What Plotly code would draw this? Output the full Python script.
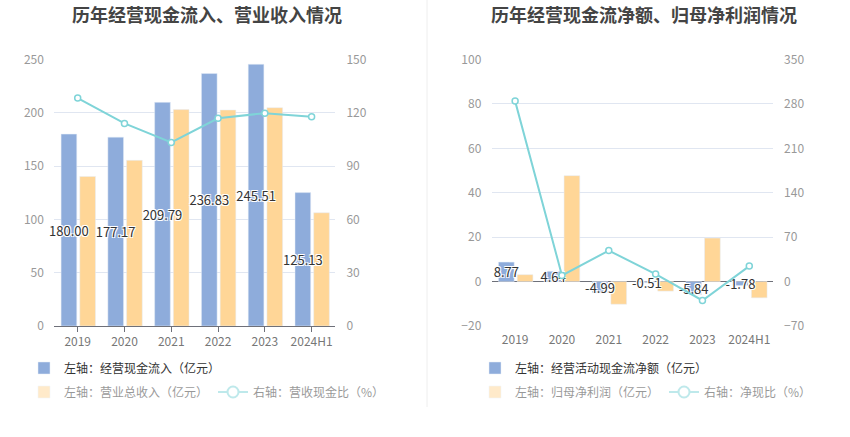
import plotly.graph_objects as go

# data
years = ["2019", "2020", "2021", "2022", "2023", "2024H1"]
cash_inflow = [180.00, 177.17, 209.79, 236.83, 245.51, 125.13]   # 经营现金流入 (亿元)
revenue = [140.3, 155.4, 203.0, 202.6, 204.8, 106.2]             # 营业总收入 (亿元)
cash_ratio = [128.3, 114.0, 103.3, 116.9, 119.8, 117.8]          # 营收现金比 (%)
net_cash = [8.77, 4.64, -4.99, -0.51, -5.84, -1.78]              # 经营活动现金流净额 (亿元)
net_profit = [3.1, 47.7, -10.2, -4.3, 19.6, -7.3]                # 归母净利润 (亿元)
net_ratio = [284.4, 9.7, 48.9, 11.9, -29.8, 24.4]                # 净现比 (%)

BLUE = '#8eacdb'
ORANGE = '#ffd697'
CYAN = '#7fd4d8'
FONT = 'Noto Sans CJK SC'

W, H = 850, 437
# screen pixels -> paper fractions
def px(sx):
    return sx / W
def py(sy):
    return 1 - sy / H

label_font = dict(family=FONT, size=13, color='#333',
                  shadow='-1px -1px 0 #fff, 1px -1px 0 #fff, -1px 1px 0 #fff, 1px 1px 0 #fff')
bar_w = 0.335
blue_off = -0.355
orange_off = 0.045

def ratio_line(x, y, name, ax, legend=None, **kw):
    big = legend is not None
    return go.Scatter(x=x, y=y, name=name, mode='lines+markers',
                      line=dict(color=CYAN, width=2),
                      marker=dict(size=11 if big else 6, color='white',
                                  line=dict(color=CYAN, width=2 if big else 1.5)),
                      xaxis=ax[0], yaxis=ax[1], legend=legend or 'legend',
                      showlegend=big, **kw)

fig = go.Figure()

# ---- left chart: 经营现金流入 / 营业收入 (orange first so the blue labels sit on top)
fig.add_trace(go.Bar(x=years, y=revenue, name='左轴：营业总收入（亿元）', marker_color=ORANGE,
                     width=bar_w, offset=orange_off, xaxis='x', yaxis='y', showlegend=False))
fig.add_trace(go.Bar(x=years, y=cash_inflow, name='左轴：经营现金流入（亿元）', marker_color=BLUE,
                     width=bar_w, offset=blue_off,
                     text=['%.2f' % v for v in cash_inflow], textposition='inside', insidetextanchor='middle',
                     constraintext='none', textangle=0, textfont=label_font, cliponaxis=False,
                     xaxis='x', yaxis='y', legend='legend'))
fig.add_trace(ratio_line(years, cash_ratio, '右轴：营收现金比（%）', ('x', 'y2')))
# faded legend entries
fig.add_trace(go.Bar(x=years, y=revenue, name='左轴：营业总收入（亿元）', marker_color=ORANGE,
                     xaxis='x', yaxis='y', visible='legendonly', legend='legend2'))
fig.add_trace(ratio_line(years, cash_ratio, '右轴：营收现金比（%）', ('x', 'y2'),
                         legend='legend2', visible='legendonly'))

# ---- right chart: 经营现金流净额 / 归母净利润
fig.add_trace(go.Bar(x=years, y=net_profit, name='左轴：归母净利润（亿元）', marker_color=ORANGE,
                     width=bar_w, offset=orange_off, xaxis='x2', yaxis='y3', showlegend=False))
fig.add_trace(go.Bar(x=years, y=net_cash, name='左轴：经营活动现金流净额（亿元）', marker_color=BLUE,
                     width=bar_w, offset=blue_off,
                     text=['%.2f' % v for v in net_cash], textposition='inside', insidetextanchor='middle',
                     constraintext='none', textangle=0, textfont=label_font, cliponaxis=False,
                     xaxis='x2', yaxis='y3', legend='legend3'))
fig.add_trace(ratio_line(years, net_ratio, '右轴：净现比（%）', ('x2', 'y4')))
fig.add_trace(go.Bar(x=years, y=net_profit, name='左轴：归母净利润（亿元）', marker_color=ORANGE,
                     xaxis='x2', yaxis='y3', visible='legendonly', legend='legend4'))
fig.add_trace(ratio_line(years, net_ratio, '右轴：净现比（%）', ('x2', 'y4'),
                         legend='legend4', visible='legendonly'))

tick_font = dict(family=FONT, size=12, color='#999')
xtick_font = dict(family=FONT, size=12, color='#777')
grid = '#e0e6f1'
y_dom = [py(326), py(59.5)]

def legend_at(sx, sy):
    return dict(orientation='h', x=px(sx), y=py(sy), xanchor='left', yanchor='middle',
                font=dict(family=FONT, size=12, color='#333'), bgcolor='rgba(0,0,0,0)',
                itemclick=False, itemdoubleclick=False)

fig.update_layout(
    width=W,
    height=H,
    margin=dict(l=0, r=0, t=0, b=0, autoexpand=False),
    paper_bgcolor='white',
    plot_bgcolor='white',
    barmode='overlay',
    font=dict(family=FONT),
    xaxis=dict(domain=[px(54.3), px(335)], anchor='y', showline=True, linecolor='#6e7079',
               ticks='outside', ticklen=5, tickcolor='#6e7079', tickfont=xtick_font, showgrid=False),
    yaxis=dict(domain=y_dom, anchor='x', range=[0, 250], dtick=50, gridcolor=grid, zeroline=False,
               tickfont=tick_font, ticks='outside', ticklen=7, tickcolor='rgba(0,0,0,0)'),
    yaxis2=dict(overlaying='y', side='right', anchor='x', range=[0, 150], dtick=30, showgrid=False,
                zeroline=False, tickfont=tick_font, ticks='outside', ticklen=8, tickcolor='rgba(0,0,0,0)'),
    xaxis2=dict(domain=[px(491.7), px(772.7)], anchor='y3', showline=False, tickfont=xtick_font,
                showgrid=False, ticks='outside', ticklen=3, tickcolor='rgba(0,0,0,0)'),
    yaxis3=dict(domain=y_dom, anchor='x2', range=[-20, 100], dtick=20, gridcolor=grid,
                zeroline=True, zerolinecolor='#6e7079', zerolinewidth=1,
                tickfont=tick_font, ticks='outside', ticklen=7, tickcolor='rgba(0,0,0,0)'),
    yaxis4=dict(overlaying='y3', side='right', anchor='x2', range=[-70, 350], dtick=70, showgrid=False,
                zeroline=False, tickfont=tick_font, ticks='outside', ticklen=8, tickcolor='rgba(0,0,0,0)'),
    legend=legend_at(24, 368),
    legend2=legend_at(24, 392),
    legend3=legend_at(475, 368),
    legend4=legend_at(475, 392),
    annotations=[
        dict(text='<b>历年经营现金流入、营业收入情况</b>', x=px(207), y=py(14), xref='paper', yref='paper',
             xanchor='center', yanchor='middle', showarrow=False, font=dict(family=FONT, size=18, color='#444')),
        dict(text='<b>历年经营现金流净额、归母净利润情况</b>', x=px(644), y=py(14), xref='paper', yref='paper',
             xanchor='center', yanchor='middle', showarrow=False, font=dict(family=FONT, size=18, color='#444')),
    ],
    shapes=[
        dict(type='line', xref='paper', yref='paper', x0=px(427), x1=px(427), y0=py(407), y1=1,
             line=dict(color='#eeeeee', width=1)),
    ],
)

# drop the default 8px body margin so the figure fills the window exactly
fig.write_html("out.html", config={'displayModeBar': False},
               post_script="document.body.style.margin = '0';")
